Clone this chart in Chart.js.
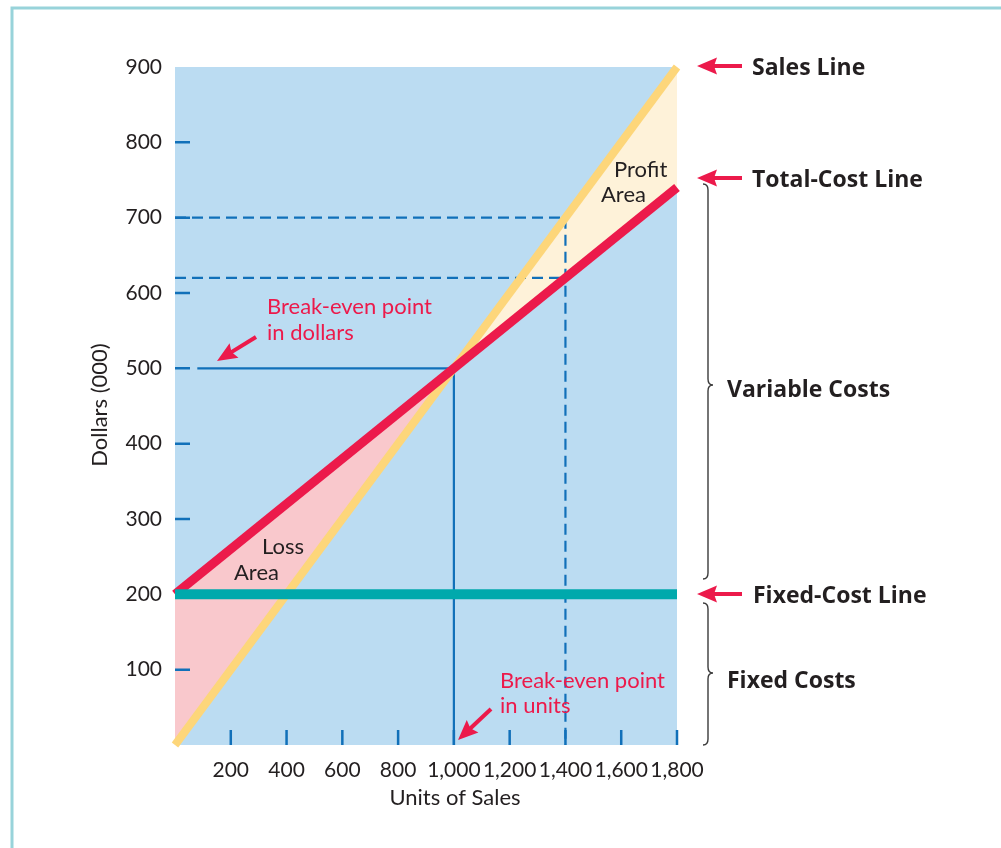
<!DOCTYPE html>
<html>
<head>
<meta charset="utf-8">
<title>Cost-volume-profit chart</title>
<script src="https://cdn.jsdelivr.net/npm/chart.js@4.4.1/dist/chart.umd.min.js"></script>
<style>
  html, body { margin: 0; padding: 0; background: #ffffff; }
  #wrap { position: relative; width: 1001px; height: 848px; }
  canvas { display: block; }
</style>
</head>
<body>
<div id="wrap"><canvas id="cvpChart" width="1001" height="848"></canvas></div>
<script>
// units of sales (x) and dollars in thousands (y)
const unitsRange = [0, 1800];
const dollarsRange = [0, 900];
const unitsStep = 200;
const dollarsStep = 100;

const salesDollars = [0, 900];
const totalCostDollars = [200, 740];
const fixedCostDollars = [200, 200];

const breakEvenUnits = 1000;
const breakEvenDollars = 500;
const targetUnits = 1400;
const targetSales = 700;
const targetCost = 620;
const dollarsLeaderStart = 80;

const BLUE = "#1170b9";
const INK = "#231f20";
const RED = "#ec1a4b";
const FONT = "Lato, 'Open Sans', sans-serif";
const BOLD_FONT = "'Open Sans', Lato, sans-serif";

const pt = (x, y) => ({ x, y });

const lossArea = [
  pt(unitsRange[0], totalCostDollars[0]),
  pt(breakEvenUnits, breakEvenDollars),
  pt(unitsRange[0], salesDollars[0]),
];
const profitArea = [
  pt(breakEvenUnits, breakEvenDollars),
  pt(unitsRange[1], salesDollars[1]),
  pt(unitsRange[1], totalCostDollars[1]),
];

function guide(points, dashed, order) {
  return {
    data: points,
    borderColor: BLUE,
    borderWidth: 2.2,
    borderDash: dashed ? [11, 6] : [],
    borderCapStyle: "butt",
    pointRadius: 0,
    fill: false,
    order,
  };
}

const backdrop = {
  id: "backdrop",
  beforeDraw(chart) {
    const { ctx, chartArea: a } = chart;
    ctx.save();
    ctx.fillStyle = "#ffffff";
    ctx.fillRect(0, 0, chart.width, chart.height);
    ctx.strokeStyle = "#98d3da";
    ctx.lineWidth = 3;
    ctx.beginPath();
    ctx.moveTo(12, chart.height);
    ctx.lineTo(12, 8);
    ctx.lineTo(chart.width, 8);
    ctx.stroke();
    ctx.fillStyle = "#bbdcf2";
    ctx.fillRect(a.left, a.top, a.right - a.left, a.bottom - a.top);
    ctx.restore();
  },
  afterDatasetsDraw(chart) {
    const { ctx, chartArea: a, scales } = chart;
    ctx.save();
    ctx.strokeStyle = BLUE;
    ctx.lineWidth = 2.5;
    ctx.beginPath();
    scales.y.ticks.forEach((t) => {
      if (t.value <= dollarsRange[0] || t.value >= dollarsRange[1] || t.value === fixedCostDollars[0]) return;
      const y = scales.y.getPixelForValue(t.value);
      ctx.moveTo(a.left, y);
      ctx.lineTo(a.left + 15, y);
    });
    scales.x.ticks.forEach((t) => {
      if (t.value <= unitsRange[0]) return;
      const x = scales.x.getPixelForValue(t.value);
      ctx.moveTo(x, a.bottom);
      ctx.lineTo(x, a.bottom - 15);
    });
    ctx.stroke();
    ctx.restore();
  },
  afterDraw(chart) {
    const { ctx } = chart;
    ctx.save();

    const text = (s, x, y, font, color, align) => {
      ctx.font = font;
      ctx.fillStyle = color;
      ctx.textAlign = align || "left";
      ctx.textBaseline = "alphabetic";
      ctx.fillText(s, x, y);
    };
    const arrow = (x1, y1, x2, y2) => {
      const ang = Math.atan2(y2 - y1, x2 - x1);
      const hl = 17, hw = 8.5;
      const bx = x2 - hl * Math.cos(ang), by = y2 - hl * Math.sin(ang);
      ctx.strokeStyle = RED;
      ctx.fillStyle = RED;
      ctx.lineWidth = 4;
      ctx.beginPath();
      ctx.moveTo(x1, y1);
      ctx.lineTo(bx + 2 * Math.cos(ang), by + 2 * Math.sin(ang));
      ctx.stroke();
      ctx.beginPath();
      ctx.moveTo(x2, y2);
      ctx.lineTo(bx - hw * Math.sin(ang) - 3 * Math.cos(ang), by + hw * Math.cos(ang) - 3 * Math.sin(ang));
      ctx.lineTo(bx, by);
      ctx.lineTo(bx + hw * Math.sin(ang) - 3 * Math.cos(ang), by - hw * Math.cos(ang) - 3 * Math.sin(ang));
      ctx.closePath();
      ctx.fill();
    };
    const brace = (x, top, bottom, mid) => {
      ctx.strokeStyle = "#3b3b3b";
      ctx.lineWidth = 1.4;
      ctx.beginPath();
      ctx.moveTo(x - 5, top);
      ctx.quadraticCurveTo(x, top, x, top + 6);
      ctx.lineTo(x, mid - 6);
      ctx.quadraticCurveTo(x, mid, x + 5, mid);
      ctx.quadraticCurveTo(x, mid, x, mid + 6);
      ctx.lineTo(x, bottom - 6);
      ctx.quadraticCurveTo(x, bottom, x - 5, bottom);
      ctx.stroke();
    };

    const bold = "bold 23px " + BOLD_FONT;
    const reg = "22px " + FONT;

    // right-hand labels
    arrow(742, 66, 697, 66);
    text("Sales Line", 752, 75, bold, INK);
    arrow(742, 178, 697, 178);
    text("Total-Cost Line", 752, 187, bold, INK);
    arrow(742, 594, 697, 594);
    text("Fixed-Cost Line", 753, 603, bold, INK);
    brace(708, 184, 579, 385);
    text("Variable Costs", 727, 397, bold, INK);
    brace(708, 603, 745, 673);
    text("Fixed Costs", 727, 688, bold, INK);

    // areas
    text("Profit", 614, 177, reg, INK);
    text("Area", 601, 202, reg, INK);
    text("Loss", 262, 554, reg, INK);
    text("Area", 234, 580, reg, INK);

    // break-even callouts
    text("Break-even point", 267, 314, reg, RED);
    text("in dollars", 267, 340, reg, RED);
    arrow(256, 337, 217, 361);
    text("Break-even point", 500, 688, reg, RED);
    text("in units", 500, 713, reg, RED);
    arrow(491, 709, 458, 740);

    // axis titles
    text("Units of Sales", 455, 805, "22px " + FONT, INK, "center");
    ctx.translate(107, 405);
    ctx.rotate(-Math.PI / 2);
    text("Dollars (000)", 0, 0, "22px " + FONT, INK, "center");

    ctx.restore();
  },
};

const ctx = document.getElementById("cvpChart").getContext("2d");
new Chart(ctx, {
  type: "line",
  data: {
    datasets: [
      {
        data: [pt(unitsRange[0], fixedCostDollars[0]), pt(unitsRange[1], fixedCostDollars[1])],
        borderColor: "#00a9ac",
        borderWidth: 10,
        borderCapStyle: "butt",
        pointRadius: 0,
        fill: false,
        order: 1,
      },
      {
        data: [pt(unitsRange[0], totalCostDollars[0]), pt(unitsRange[1], totalCostDollars[1])],
        borderColor: RED,
        borderWidth: 9,
        borderCapStyle: "butt",
        pointRadius: 0,
        fill: false,
        clip: false,
        order: 2,
      },
      {
        data: [pt(unitsRange[0], salesDollars[0]), pt(unitsRange[1], salesDollars[1])],
        borderColor: "#fdd67a",
        borderWidth: 8,
        borderCapStyle: "butt",
        pointRadius: 0,
        fill: false,
        clip: false,
        order: 3,
      },
      guide([pt(dollarsLeaderStart, breakEvenDollars), pt(breakEvenUnits, breakEvenDollars)], false, 4),
      guide([pt(breakEvenUnits, breakEvenDollars), pt(breakEvenUnits, dollarsRange[0])], false, 4),
      guide([pt(unitsRange[0], targetSales), pt(targetUnits, targetSales)], true, 4),
      guide([pt(unitsRange[0], targetCost), pt(targetUnits, targetCost)], true, 4),
      guide([pt(targetUnits, targetSales), pt(targetUnits, dollarsRange[0])], true, 4),
      {
        data: lossArea,
        borderWidth: 0,
        borderColor: "rgba(0,0,0,0)",
        backgroundColor: "#f9c8cc",
        pointRadius: 0,
        fill: "shape",
        order: 5,
      },
      {
        data: profitArea,
        borderWidth: 0,
        borderColor: "rgba(0,0,0,0)",
        backgroundColor: "#fef2d9",
        pointRadius: 0,
        fill: "shape",
        order: 5,
      },
    ],
  },
  options: {
    responsive: false,
    animation: false,
    devicePixelRatio: 1,
    layout: { padding: { left: 0, right: 324, top: 67, bottom: 0 } },
    plugins: {
      legend: { display: false },
      tooltip: { enabled: false },
    },
    scales: {
      x: {
        type: "linear",
        min: unitsRange[0],
        max: unitsRange[1],
        grid: { display: false, drawTicks: false },
        border: { display: false },
        afterFit: (scale) => { scale.height = 103; },
        ticks: {
          stepSize: unitsStep,
          padding: 13,
          maxRotation: 0,
          minRotation: 0,
          autoSkip: false,
          color: INK,
          font: { family: FONT, size: 21 },
          callback: (v) => (v === 0 ? "" : v.toLocaleString("en-US")),
        },
      },
      y: {
        type: "linear",
        min: dollarsRange[0],
        max: dollarsRange[1],
        grid: { display: false, drawTicks: false },
        border: { display: false },
        afterFit: (scale) => { scale.width = 175; },
        ticks: {
          stepSize: dollarsStep,
          padding: 13,
          color: INK,
          font: { family: FONT, size: 21 },
          callback: (v) => (v === 0 ? "" : v),
        },
      },
    },
  },
  plugins: [backdrop],
});
</script>
</body>
</html>
